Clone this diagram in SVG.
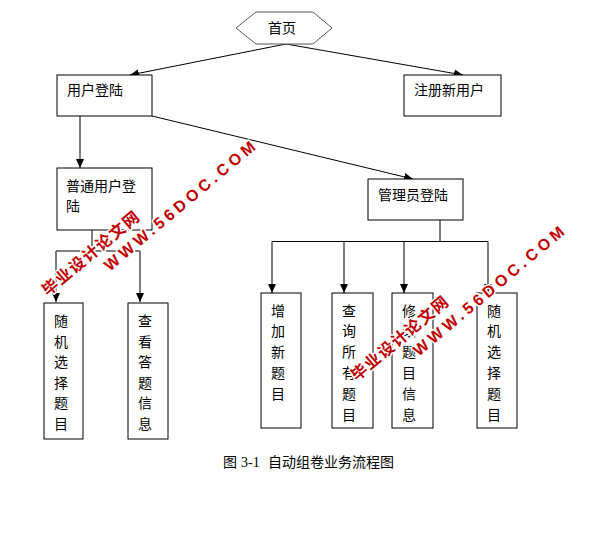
<svg xmlns="http://www.w3.org/2000/svg" width="598" height="538" viewBox="0 0 598 538">
<style>
.box{fill:#fff;stroke:#000;stroke-width:1}
.hex{fill:#fff;stroke:#555;stroke-width:1}
.t{font-family:"Noto Sans CJK SC","Noto Sans",sans-serif;font-size:14px;fill:#000}
.ln{fill:none;stroke:#000;stroke-width:1}
.ga{fill:none;stroke:#555;stroke-width:1.5}
.wm{font-weight:bold;font-size:16px;fill:#c00000;stroke:#fff;stroke-width:3;paint-order:stroke;stroke-linejoin:round}
.wmc{font-family:"Noto Sans CJK SC",sans-serif}
.wml{font-family:"Liberation Sans",Arial,sans-serif}
</style>
<defs>
<marker id="ah" markerUnits="userSpaceOnUse" markerWidth="9" markerHeight="9" viewBox="0 -4.5 9 9" refX="9" refY="0" orient="auto">
<path d="M0,-4 L9,0 L0,4 z" fill="#000"/>
</marker>
</defs>
<rect width="598" height="538" fill="#fff"/>
<g id="connectors">
<line class="ln" x1="286" y1="44" x2="130" y2="75" marker-end="url(#ah)"/>
<line class="ln" x1="286" y1="44" x2="463" y2="75" marker-end="url(#ah)"/>
<line class="ln" x1="152" y1="116" x2="413" y2="179" marker-end="url(#ah)"/>
<line class="ga" x1="80" y1="116" x2="80" y2="168" marker-end="url(#ah)"/>
<polyline class="ln" points="92,230 92,251"/>
<line class="ln" x1="56" y1="251" x2="140" y2="251"/>
<line class="ga" x1="56" y1="251" x2="56" y2="302" marker-end="url(#ah)"/>
<line class="ga" x1="140" y1="251" x2="140" y2="302" marker-end="url(#ah)"/>
<line class="ln" x1="440" y1="220" x2="440" y2="241.5"/>
<line class="ln" x1="272" y1="241.5" x2="488" y2="241.5"/>
<line class="ga" x1="272" y1="241.5" x2="272" y2="293" marker-end="url(#ah)"/>
<line class="ga" x1="344" y1="241.5" x2="344" y2="293" marker-end="url(#ah)"/>
<line class="ga" x1="404" y1="241.5" x2="404" y2="293" marker-end="url(#ah)"/>
<line class="ga" x1="488" y1="241.5" x2="488" y2="293" marker-end="url(#ah)"/>
</g>
<g id="home">
<polygon class="hex" points="236,28 256,12 313,12 332,28 313,44 256,44"/>
<text class="t" x="268" y="33">首页</text>
</g>
<g id="user-login">
<rect class="box" x="57" y="75" width="95" height="41"/>
<text class="t" x="67" y="95">用户登陆</text>
</g>
<g id="register">
<rect class="box" x="404" y="75" width="97" height="41"/>
<text class="t" x="414" y="95">注册新用户</text>
</g>
<g id="normal-login">
<rect class="box" x="57" y="168" width="95" height="62"/>
<text class="t" x="66" y="190.5">普通用户登</text>
<text class="t" x="66" y="210.5">陆</text>
</g>
<g id="admin-login">
<rect class="box" x="368" y="179" width="95" height="41"/>
<text class="t" x="378" y="200">管理员登陆</text>
</g>
<g id="random-select-user">
<rect class="box" x="44" y="303" width="39" height="136"/>
<text class="t" x="54" y="326"><tspan x="54">随</tspan><tspan x="54" dy="20.5">机</tspan><tspan x="54" dy="20.5">选</tspan><tspan x="54" dy="20.5">择</tspan><tspan x="54" dy="20.5">题</tspan><tspan x="54" dy="20.5">目</tspan></text>
</g>
<g id="view-answers">
<rect class="box" x="128" y="303" width="40" height="136"/>
<text class="t" x="138" y="326"><tspan x="138">查</tspan><tspan x="138" dy="20.5">看</tspan><tspan x="138" dy="20.5">答</tspan><tspan x="138" dy="20.5">题</tspan><tspan x="138" dy="20.5">信</tspan><tspan x="138" dy="20.5">息</tspan></text>
</g>
<g id="add-question">
<rect class="box" x="261" y="293" width="40" height="135"/>
<text class="t" x="271" y="315.5"><tspan x="271">增</tspan><tspan x="271" dy="20.8">加</tspan><tspan x="271" dy="20.8">新</tspan><tspan x="271" dy="20.8">题</tspan><tspan x="271" dy="20.8">目</tspan></text>
</g>
<g id="query-all">
<rect class="box" x="332" y="293" width="41" height="135"/>
<text class="t" x="342" y="315.5"><tspan x="342">查</tspan><tspan x="342" dy="20.8">询</tspan><tspan x="342" dy="20.8">所</tspan><tspan x="342" dy="20.8">有</tspan><tspan x="342" dy="20.8">题</tspan><tspan x="342" dy="20.8">目</tspan></text>
</g>
<g id="modify-question">
<rect class="box" x="392" y="293" width="41" height="135"/>
<text class="t" x="402" y="315.5"><tspan x="402">修</tspan><tspan x="402" dy="20.8">改</tspan><tspan x="402" dy="20.8">题</tspan><tspan x="402" dy="20.8">目</tspan><tspan x="402" dy="20.8">信</tspan><tspan x="402" dy="20.8">息</tspan></text>
</g>
<g id="random-select-admin">
<rect class="box" x="477" y="293" width="40" height="135"/>
<text class="t" x="487" y="315.5"><tspan x="487">随</tspan><tspan x="487" dy="20.8">机</tspan><tspan x="487" dy="20.8">选</tspan><tspan x="487" dy="20.8">择</tspan><tspan x="487" dy="20.8">题</tspan><tspan x="487" dy="20.8">目</tspan></text>
</g>
<g id="caption">
<text class="t" y="466.5"><tspan x="223">图</tspan><tspan x="241" font-family="'Liberation Serif',serif">3-1</tspan><tspan x="268">自动组卷业务流程图</tspan></text>
</g>
<g id="watermark-1" transform="translate(50,287) rotate(-40)">
<text class="wm wmc" x="-8" y="6" textLength="121" lengthAdjust="spacing">毕业设计论文网</text>
<text class="wm wml" x="55.5" y="26.8" textLength="191.5" lengthAdjust="spacing">WWW.56DOC.COM</text>
</g>
<g id="watermark-2" transform="translate(359,372) rotate(-40)">
<text class="wm wmc" x="-8" y="6" textLength="121" lengthAdjust="spacing">毕业设计论文网</text>
<text class="wm wml" x="55.5" y="26.8" textLength="191.5" lengthAdjust="spacing">WWW.56DOC.COM</text>
</g>
</svg>
